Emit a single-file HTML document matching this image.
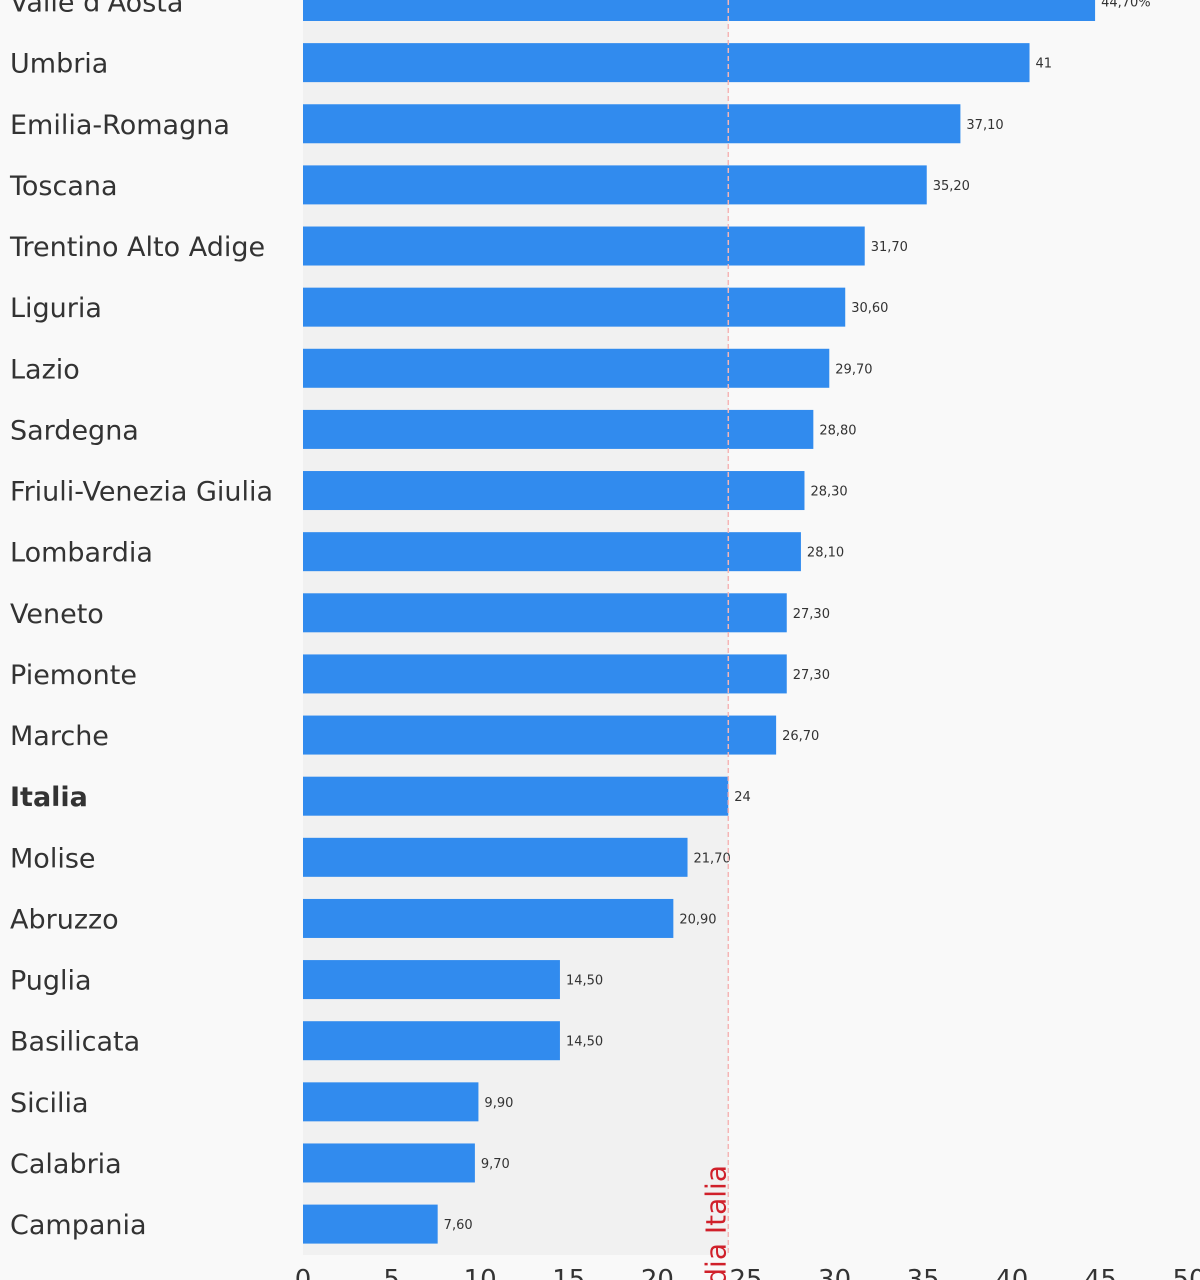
<!DOCTYPE html>
<html><head><meta charset="utf-8"><style>
body{margin:0;background:#f9f9f9;}
svg{display:block;font-family:"DejaVu Sans","Liberation Sans",sans-serif;}
</style></head><body>
<svg id="chart" width="1200" height="1280" viewBox="0 0 1200 1280">
<rect x="0" y="0" width="1200" height="1280" fill="#f9f9f9"/>
<g id="plot"></g>
</svg>
<script>
const categories=["Valle d'Aosta","Umbria","Emilia-Romagna","Toscana","Trentino Alto Adige","Liguria","Lazio","Sardegna","Friuli-Venezia Giulia","Lombardia","Veneto","Piemonte","Marche","Italia","Molise","Abruzzo","Puglia","Basilicata","Sicilia","Calabria","Campania"];
const values=[44.7,41,37.1,35.2,31.7,30.6,29.7,28.8,28.3,28.1,27.3,27.3,26.7,24,21.7,20.9,14.5,14.5,9.9,9.7,7.6];
const valueLabels=["44,70%","41","37,10","35,20","31,70","30,60","29,70","28,80","28,30","28,10","27,30","27,30","26,70","24","21,70","20,90","14,50","14,50","9,90","9,70","7,60"];
const ticks=[0,5,10,15,20,25,30,35,40,45,50];
const average=24;
const NS="http://www.w3.org/2000/svg";
const g=document.getElementById('plot');
const x=v=>303+v*17.72;
const yc=i=>1.5+i*61.13;
const barH=39;
function el(t,a){const e=document.createElementNS(NS,t);for(const k in a)e.setAttribute(k,a[k]);g.appendChild(e);return e;}
let r=el('rect',{x:x(0),y:0,width:x(average)-x(0),height:1255,fill:'#f1f1f1'});


categories.forEach((c,i)=>{
 const b=el('rect',{x:x(0),y:yc(i)-barH/2,width:x(values[i])-x(0),height:barH,fill:'#318bee'});
 
 
 const t=el('text',{x:10,y:yc(i)+10,'font-size':27,fill:'#333','font-weight':c==='Italia'?'bold':'normal'});
 t.textContent=c;
 
 
 const v=el('text',{x:x(values[i])+6,y:yc(i)+5,'font-size':13,fill:'#333'});
 v.textContent=valueLabels[i];
 
 
});
const l=el('line',{x1:x(average),x2:x(average),y1:0,y2:1255,stroke:'#f5b5b5','stroke-width':1.5,'stroke-dasharray':'5,3'});


const lt=el('text',{x:0,y:0,'font-size':28,fill:'#d0202a','text-anchor':'end',transform:`translate(${x(average)-3},1165) rotate(-90)`});
lt.textContent='Media Italia';


ticks.forEach(t=>{
 const e=el('text',{x:x(t),y:1288,'font-size':26,fill:'#333','text-anchor':'middle'});
 e.textContent=t;
 
 
});
</script>
</body></html>
